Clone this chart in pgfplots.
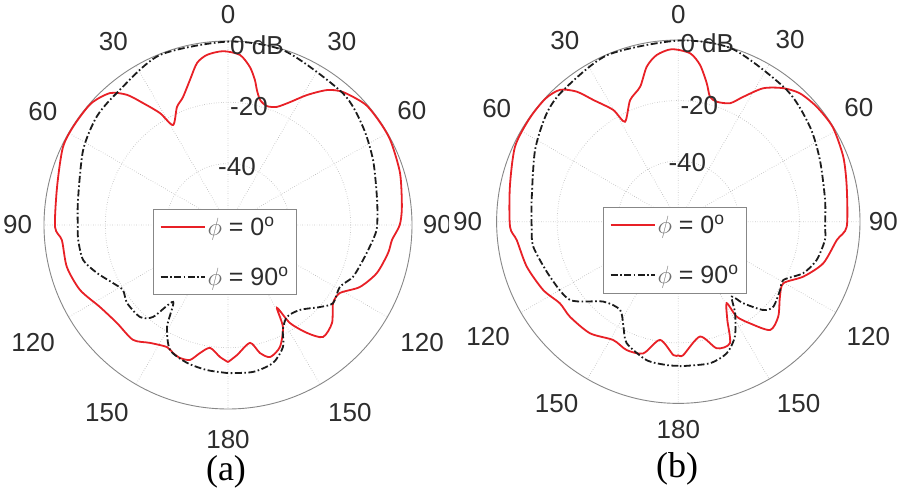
\documentclass[border=0pt]{standalone}
\usepackage{fontspec}
\setmainfont{Liberation Sans}
\newfontfamily\seriffont{Liberation Serif}
\usepackage{pgfplots}
\usepackage{pgfplotstable}
\pgfplotsset{compat=1.18}
\usepgfplotslibrary{polar}
\definecolor{cred}{RGB}{232,32,38}
\definecolor{cblk}{RGB}{28,28,28}
\definecolor{cring}{RGB}{135,135,135}
\definecolor{cgrid}{RGB}{170,170,170}
\definecolor{ctxt}{RGB}{45,45,45}
\definecolor{cphi}{RGB}{110,110,110}

% t: angle from broadside (positive = right half, negative = left half), d: dB
\pgfplotstableread{
t d
-180 -15.3
-176.5 -16.9
-171.7 -19.5
-167.7 -17.3
-164.3 -14.3
-160.2 -13.9
-156.7 -14.6
-153.4 -15.5
-146.5 -13.9
-140.4 -11.4
-131.4 -11.7
-122.6 -10.4
-113.7 -7.3
-104.6 -5.7
-95.2 -5.6
-90.7 -3.6
-77.5 -2.9
-64.8 -0.5
-57 -0.2
-48.4 -0.3
-41.8 -2.3
-37.8 -6.3
-34.9 -11.5
-31.3 -17.3
-28.8 -22.8
-23.4 -18.1
-19.4 -15.8
-14.7 -11.1
-10.8 -6.2
-7.0 -4.1
-1.6 -3.3
4.0 -4.4
7.9 -8.0
10.5 -11.9
12.1 -15.0
14.4 -17.9
18.1 -19.2
22.5 -18.3
26.8 -15.1
31.3 -10.4
36.3 -5.4
40.8 -2.7
48.7 -0.4
55.9 -0.2
62.7 -0.3
73.2 -1.4
84.1 -3.0
90 -4.0
95.2 -6.3
99.9 -7.0
107.9 -9.0
115.2 -12.5
121.3 -17.3
126.6 -17.3
133.3 -13.4
139.7 -12.1
143.8 -16.4
147.7 -22.2
149.4 -28.6
151.7 -22.2
156.9 -16.8
162.3 -14.8
166 -17.0
169.4 -20.9
176 -17.5
180 -15.3
}\redA

\pgfplotstableread{
t d
-180 -11.7
-171.8 -12.2
-163.5 -13.1
-155.1 -15.1
-149.1 -21.3
-144.5 -29.2
-140.8 -21.3
-136.3 -18.5
-127.7 -18.4
-121.8 -19.7
-116.8 -18.0
-110.1 -14.5
-103.6 -11.4
-95.7 -10.9
-90.8 -11.0
-80.5 -10.4
-62.6 -6.8
-50.5 -4.5
-40 -3.7
-22 -0.3
0 -0.2
18 -0.3
41 -3.0
54 -5.6
66 -8.2
80.5 -10.7
90.8 -11.4
95.9 -12.5
104.5 -14.5
112.6 -15.9
119 -18.3
126.6 -17.3
131.7 -19.8
139.7 -23.7
147.3 -24.4
152.4 -21.4
155.7 -16.4
161.9 -12.7
170.3 -11.4
180 -11.7
}\blkA

\pgfplotstableread{
t d
-180 -15.9
-177.9 -15.9
-171.2 -20.5
-165.1 -15.0
-158.1 -14.3
-151.2 -15.4
-141.6 -13.0
-131.3 -12.4
-124.6 -12.5
-116.8 -10.0
-106.5 -7.8
-96.5 -6.3
-91.7 -4.4
-78.3 -3.2
-65.3 -0.65
-55.3 -0.2
-47.2 -0.2
-41.9 -1.5
-38 -5.5
-34.9 -11.0
-30.2 -17.3
-28.1 -22.6
-21.6 -16.8
-15.8 -13.7
-11.5 -7.75
-7.4 -4.5
-2.2 -3.0
4 -4.25
7.9 -7.75
11.6 -13.3
14.2 -17.4
17.7 -18.4
23.6 -17.3
27.5 -13.5
32.5 -7.75
38.2 -3.9
43.5 -1.6
50.3 -0.6
58.5 -0.2
68.5 -1.45
78.3 -3.2
91.7 -4.35
96.6 -7.3
106 -10.2
113.7 -14.9
120.4 -19.8
126.4 -18.3
133.5 -14.5
139.7 -13.1
144.8 -18.9
148.4 -23.2
149.3 -28.7
153.5 -23.7
157 -16.4
163.1 -16.3
169.3 -21.4
177.9 -15.9
180 -15.9
}\redB

\pgfplotstableread{
t d
-180 -12.4
-175.4 -12.5
-167.1 -13.1
-157 -16.4
-152.4 -20.9
-146.6 -25.1
-136.8 -23.8
-125.9 -15.9
-113.2 -13.9
-99.8 -11.4
-91.8 -11.55
-81.6 -11.05
-63.4 -7.1
-50.5 -3.7
-41.1 -2.3
-23 -0.2
0 -0.2
17.4 -0.2
39.5 -3.65
54.2 -6.4
66.5 -9.0
81.6 -11.0
91.8 -11.5
97.1 -11.2
105.5 -12.6
112.4 -15.4
119 -20.3
123.9 -19.5
131.8 -17.9
136.1 -19.5
141.5 -25.6
144.5 -29.6
148.2 -24.4
153.8 -17.7
159.8 -13.7
167.4 -12.1
178 -12.3
180 -12.4
}\blkB

\pgfplotsset{
  pp/.style={
    anchor=center, scale only axis,
    xmin=0, xmax=360, ymin=0, ymax=60,
    xtick={0,30,...,330}, xticklabels={},
    ytick={20,40}, yticklabels={},
    xmajorgrids, ymajorgrids,
    major grid style={cgrid, dotted, line width=0.75pt},
    separate axis lines,
    x axis line style={cring, line width=0.9pt},
    y axis line style={draw=none},
    major tick style={draw=none},
    clip=false,
    legend cell align=left,
    legend style={draw=cring, line width=0.7pt, fill=white, anchor=center,
      font=\fontsize{25}{27}\selectfont, text=ctxt,
      inner xsep=6pt, inner ysep=7pt, row sep=28pt,
      nodes={inner xsep=2pt, inner ysep=1pt}},
  },
  redline/.style={cred, line width=1.8pt, smooth, tension=0.45},
  blkline/.style={cblk, line width=1.8pt, smooth, tension=0.45,
     dash pattern=on 7pt off 2.5pt on 1.6pt off 2.5pt},
}
\tikzset{lab/.style={font=\fontsize{26}{28}\selectfont, text=ctxt, inner sep=0pt}}
\pgfplotsset{legend image code/.code={\draw[#1, line width=2pt] (0pt,0.3pt) -- (44pt,0.3pt);}}

\begin{document}
\begin{tikzpicture}
\useasboundingbox (0,0) rectangle (902pt,497pt);
% ---------------- (a) ----------------
\begin{polaraxis}[pp, at={(228pt,272pt)}, width=368pt, height=368pt,
   legend style={at={(0.492,0.427)}}]
\addplot[redline] table[x expr=90-\thisrow{t}, y expr=\thisrow{d}+60] {\redA};
\addlegendentry{\textcolor{cphi}{$\phi$} = 0\textsuperscript{o}}
\addplot[blkline] table[x expr=90-\thisrow{t}, y expr=\thisrow{d}+60] {\blkA};
\addlegendentry{\textcolor{cphi}{$\phi$} = 90\textsuperscript{o}}
\node[lab] at (axis cs:90,68.5) {0};
\node[lab] at (axis cs:58.1,70.3) {30};
\node[lab] at (axis cs:122,70.5) {30};
\node[lab] at (axis cs:32,70.7) {60};
\node[lab] at (axis cs:148.6,70.7) {60};
\node[lab] at (axis cs:0,68.3) {90};
\node[lab] at (axis cs:180,68.6) {90};
\node[lab] at (axis cs:328.7,74.1) {120};
\node[lab] at (axis cs:211.2,74.3) {120};
\node[lab] at (axis cs:303,73) {150};
\node[lab] at (axis cs:237.2,72.9) {150};
\node[lab] at (axis cs:270,70.1) {180};
\node[lab, anchor=west, xshift=2pt] at (axis cs:90,58.7) {0 dB};
\node[lab, anchor=west, xshift=2pt] at (axis cs:90,38.5) {-20};
\node[lab, anchor=west, xshift=-10pt] at (axis cs:90,18.9) {-40};
\end{polaraxis}
\fill[white] (449pt,0pt) rectangle (902pt,497pt);
% ---------------- (b) ----------------
\begin{polaraxis}[pp, at={(678.3pt,275.3pt)}, width=363.4pt, height=363.4pt,
   legend style={at={(0.491,0.422)}}]
\addplot[redline] table[x expr=90-\thisrow{t}, y expr=\thisrow{d}+60] {\redB};
\addlegendentry{\textcolor{cphi}{$\phi$} = 0\textsuperscript{o}}
\addplot[blkline] table[x expr=90-\thisrow{t}, y expr=\thisrow{d}+60] {\blkB};
\addlegendentry{\textcolor{cphi}{$\phi$} = 90\textsuperscript{o}}
\node[lab] at (axis cs:90,68.3) {0};
\node[lab] at (axis cs:58.4,70.5) {30};
\node[lab] at (axis cs:122,70.7) {30};
\node[lab] at (axis cs:32.2,70.5) {60};
\node[lab] at (axis cs:148,70.7) {60};
\node[lab] at (axis cs:0,67.7) {90};
\node[lab] at (axis cs:180,69.6) {90};
\node[lab] at (axis cs:328.8,73.4) {120};
\node[lab] at (axis cs:211.2,73.4) {120};
\node[lab] at (axis cs:303.5,72) {150};
\node[lab] at (axis cs:236.2,72.2) {150};
\node[lab] at (axis cs:270,68.8) {180};
\node[lab, anchor=west, xshift=2pt] at (axis cs:90,59) {0 dB};
\node[lab, anchor=west, xshift=2pt] at (axis cs:90,38.2) {-20};
\node[lab, anchor=west, xshift=-10pt] at (axis cs:90,19.4) {-40};
\end{polaraxis}
\node[font=\seriffont\fontsize{36}{38}\selectfont, text=black, inner sep=0pt] at (226pt,25pt) {(a)};
\node[font=\seriffont\fontsize{36}{38}\selectfont, text=black, inner sep=0pt] at (677pt,28pt) {(b)};
\end{tikzpicture}
\end{document}
